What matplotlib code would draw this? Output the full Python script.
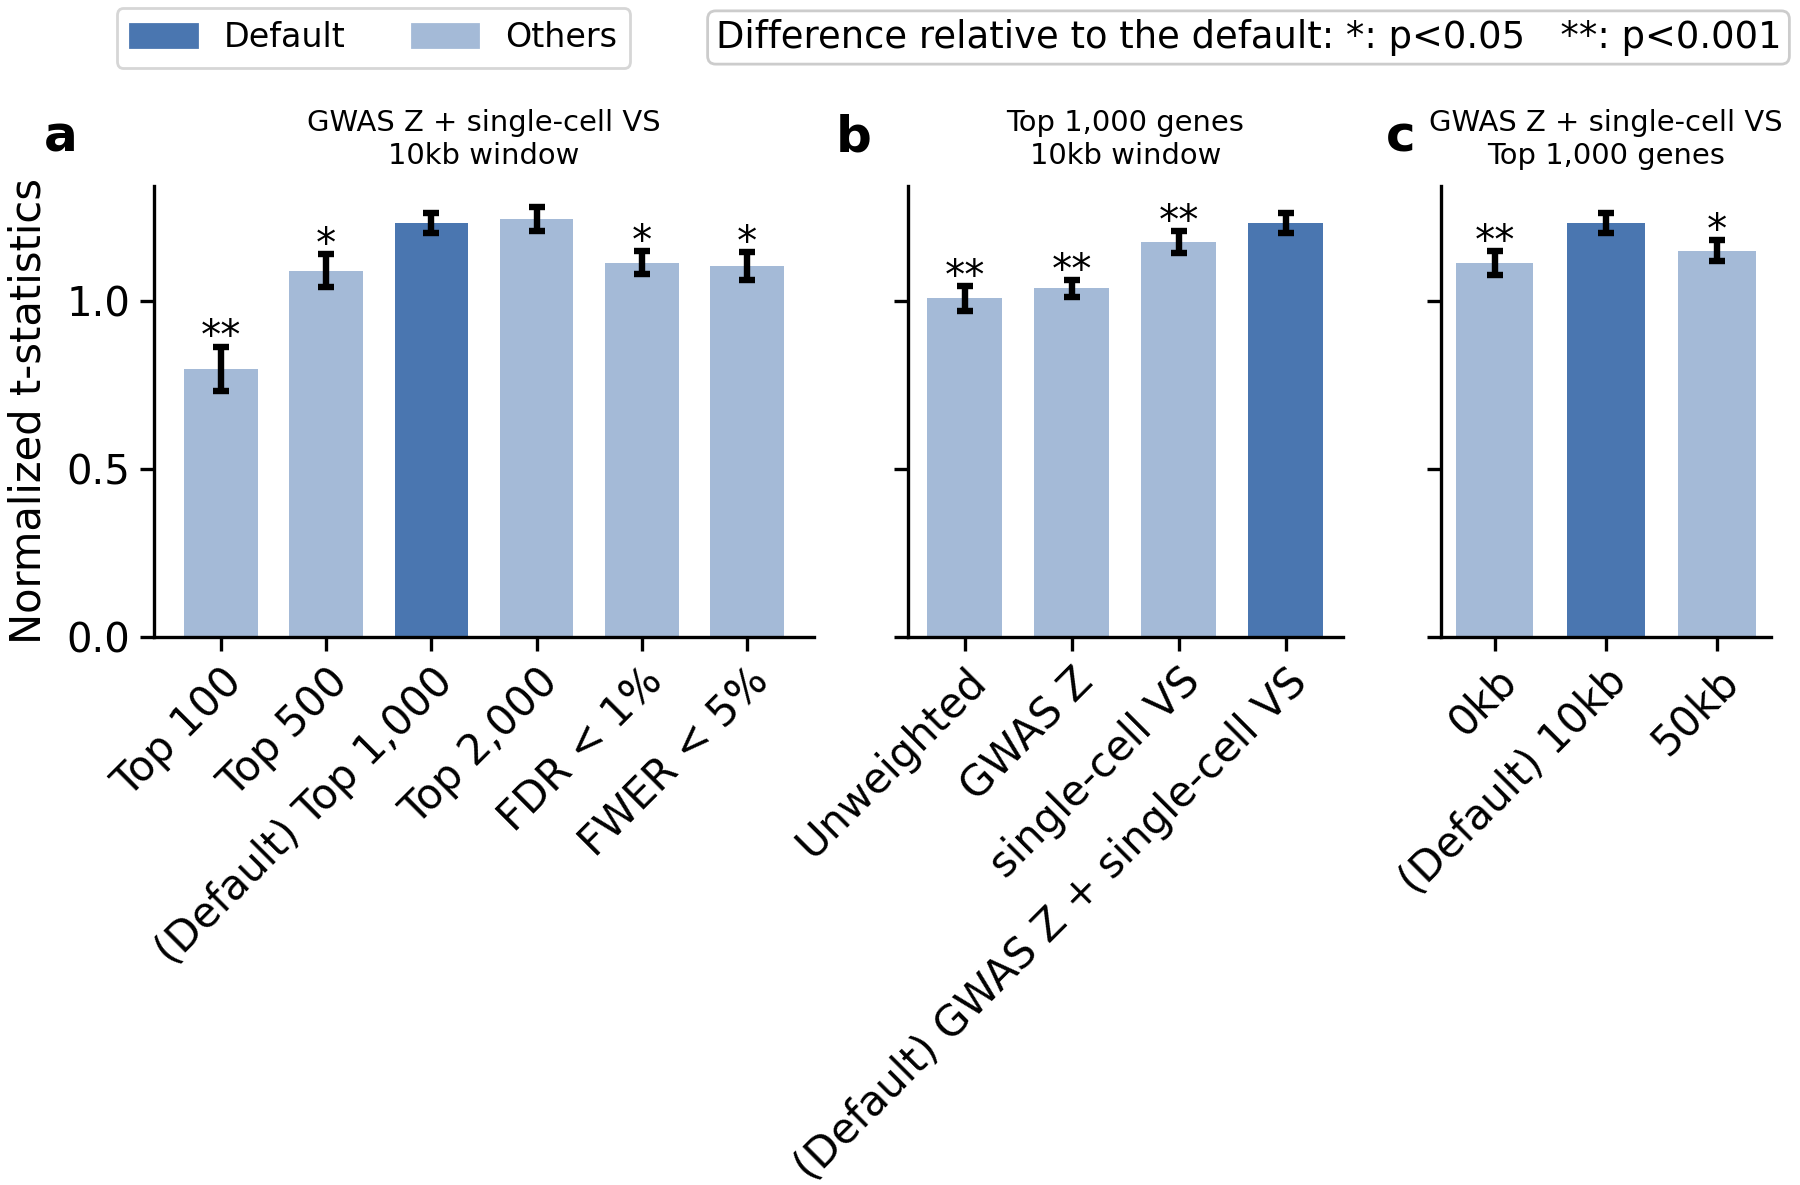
import numpy as np
import matplotlib.pyplot as plt
from matplotlib.patches import Patch

# panel a: gene set size
labels_a = ["Top 100", "Top 500", "(Default) Top 1,000", "Top 2,000", "FDR < 1%", "FWER < 5%"]
vals_a = [0.798, 1.090, 1.232, 1.243, 1.114, 1.103]
errs_a = [0.066, 0.050, 0.030, 0.035, 0.033, 0.042]
sig_a = ["**", "*", "", "", "*", "*"]
default_a = 2

# panel b: gene weighting
labels_b = ["Unweighted", "GWAS Z", "single-cell VS", "(Default) GWAS Z + single-cell VS"]
vals_b = [1.007, 1.037, 1.175, 1.232]
errs_b = [0.037, 0.025, 0.033, 0.030]
sig_b = ["**", "**", "**", ""]
default_b = 3

# panel c: window size
labels_c = ["0kb", "(Default) 10kb", "50kb"]
vals_c = [1.112, 1.232, 1.149]
errs_c = [0.035, 0.030, 0.031]
sig_c = ["**", "", "*"]
default_c = 1

titles = [
    "GWAS Z + single-cell VS\n10kb window",
    "Top 1,000 genes\n10kb window",
    "GWAS Z + single-cell VS\nTop 1,000 genes",
]
panel_letters = ["a", "b", "c"]

C_DEFAULT = "#4a76b0"
C_OTHER = "#a4bad7"

plt.rcParams["font.family"] = "DejaVu Sans"
plt.rcParams["axes.linewidth"] = 1.2

fig = plt.figure(figsize=(9, 5.925), dpi=200)
H = 1185.0
W = 1800.0
# axes boxes in pixels: left, width
boxes = [(154, 660), (907.7, 435.3), (1440.7, 330)]
bottom = (H - 636.7) / H
height = 450.7 / H
axes = []
for i, (l, w) in enumerate(boxes):
    if i == 0:
        ax = fig.add_axes([l / W, bottom, w / W, height])
    else:
        ax = fig.add_axes([l / W, bottom, w / W, height], sharey=axes[0])
    axes.append(ax)

data = [
    (labels_a, vals_a, errs_a, sig_a, default_a),
    (labels_b, vals_b, errs_b, sig_b, default_b),
    (labels_c, vals_c, errs_c, sig_c, default_c),
]

letter_x = [44, 836, 1386]
for n, (ax, (labs, vals, errs, sig, d)) in enumerate(zip(axes, data)):
    x = np.arange(len(vals))
    cols = [C_DEFAULT if k == d else C_OTHER for k in range(len(vals))]
    ax.bar(x, vals, width=0.7, color=cols)
    ax.errorbar(x, vals, yerr=errs, fmt="none", ecolor="k", elinewidth=2.3,
                capsize=3, capthick=2.3)
    for k in range(len(vals)):
        if sig[k]:
            ax.text(x[k], vals[k] + errs[k] + 0.024, sig[k], ha="center",
                    va="center", fontsize=14.5)
    ax.set_xticks(x)
    ax.set_xticklabels(labs, rotation=45, ha="right", rotation_mode="anchor",
                       fontsize=15)
    ax.tick_params(length=5, width=1.2)
    ax.tick_params(axis="y", labelsize=14.5)
    ax.spines["top"].set_visible(False)
    ax.spines["right"].set_visible(False)
    ax.set_title(titles[n], fontsize=10.45, pad=8)
    if n > 0:
        plt.setp(ax.get_yticklabels(), visible=False)
    fig.text(letter_x[n] / W, 1 - 152 / H, panel_letters[n], fontsize=18,
             fontweight="bold", va="baseline", ha="left")

axes[0].set_yticks([0.0, 0.5, 1.0])
axes[0].set_ylabel("Normalized t-statistics", fontsize=15, labelpad=6)

handles = [Patch(color=C_DEFAULT, label="Default"), Patch(color=C_OTHER, label="Others")]
fig.legend(handles=handles, loc="upper center", bbox_to_anchor=(373.5 / W, 1 - 8 / H),
           borderaxespad=0, ncol=2, fontsize=12, frameon=True)

fig.text(1248.5 / W, 1 - 37.5 / H,
         "Difference relative to the default: *: p<0.05   **: p<0.001",
         ha="center", va="center", fontsize=13.3,
         bbox=dict(boxstyle="round,pad=0.22", fc="white", ec="0.8", lw=1.0))

fig.savefig("out.png", dpi=200)
